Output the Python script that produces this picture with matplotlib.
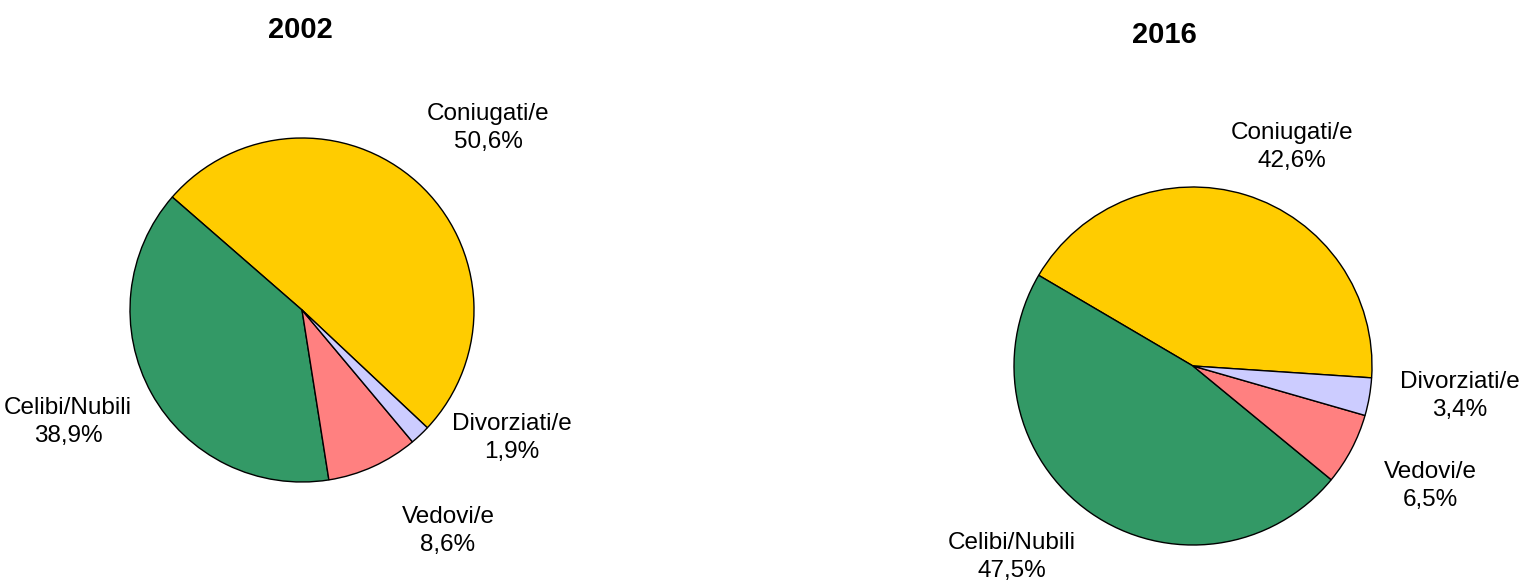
import matplotlib
matplotlib.use("Agg")
import matplotlib.pyplot as plt

plt.rcParams['font.family'] = ['Liberation Sans', 'DejaVu Sans']

categories = ["Coniugati/e", "Celibi/Nubili", "Vedovi/e", "Divorziati/e"]
values_2002 = [50.6, 38.9, 8.6, 1.9]
values_2016 = [42.6, 47.5, 6.5, 3.4]
colors = ["#FFCC00", "#339966", "#FF8080", "#CCCCFF"]

W, H = 1529, 587
fig = plt.figure(figsize=(W / 100, H / 100), dpi=100)
ax = fig.add_axes([0, 0, 1, 1])
ax.set_xlim(0, W)
ax.set_ylim(0, H)
ax.set_aspect("equal")
ax.axis("off")


def fmt(v):
    return f"{v:.1f}%".replace(".", ",")


def draw_pie(values, center, radius, start, title, title_pos, label_pos):
    ax.pie(values, colors=colors, startangle=start, counterclock=True,
           center=(center[0], H - center[1]), radius=radius, frame=True,
           wedgeprops=dict(edgecolor="black", linewidth=1.0))
    ax.text(title_pos[0], H - title_pos[1], title, ha="center", va="center",
            fontsize=21, fontweight="bold")
    for cat, v, (x, y) in zip(categories, values, label_pos):
        ax.text(x, H - y, f"{cat}\n{fmt(v)}", ha="center", va="center",
                fontsize=17.5, linespacing=1.4)


draw_pie(values_2002, (302, 310), 172, -43.2, "2002", (300, 30),
         [(488, 128), (68, 422), (448, 531), (512, 438)])
draw_pie(values_2016, (1193, 366), 179, -3.8, "2016", (1164, 35),
         [(1292, 147), (1012, 557), (1430, 486), (1460, 396)])

ax.set_xlim(0, W)
ax.set_ylim(0, H)
ax.axis("off")

fig.savefig("out.png", dpi=100)
